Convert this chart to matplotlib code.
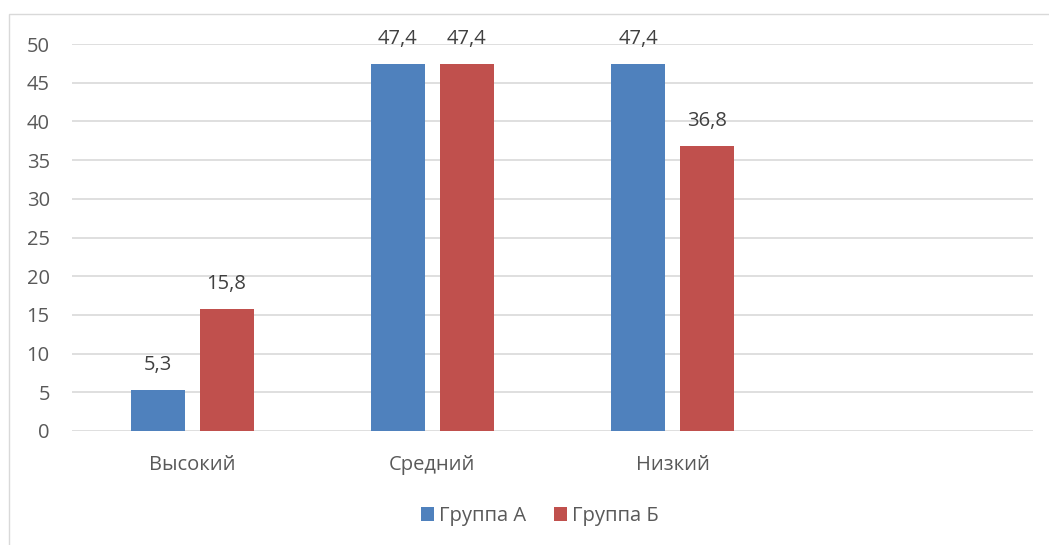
import matplotlib.pyplot as plt
import matplotlib.patches as mpatches
import numpy as np

plt.rcParams['font.family'] = ['Open Sans', 'DejaVu Sans']

categories = ['Высокий', 'Средний', 'Низкий', '']
group_a = [5.3, 47.4, 47.4]
group_b = [15.8, 47.4, 36.8]
series_names = ['Группа А', 'Группа Б']
yticks = [0, 5, 10, 15, 20, 25, 30, 35, 40, 45, 50]

blue = '#4F81BD'
red = '#C0504D'
text_c = '#595959'
grid_c = '#D9D9D9'
fs = 14.5

fig = plt.figure(figsize=(10.49, 5.45), dpi=100)
ax = fig.add_axes([72 / 1049, 1 - 431 / 545, (1033 - 72) / 1049, (431 - 44) / 545])

# внешняя рамка диаграммы
fig.patches.append(mpatches.Rectangle((9 / 1049, -0.01), 1.0, 1 - 14 / 545 + 0.01,
                                      transform=fig.transFigure, fill=False,
                                      edgecolor=grid_c, linewidth=1.0))

w = 0.2245
off = 0.1435
x = np.arange(len(group_a))
bars_a = ax.bar(x - off, group_a, w, color=blue, label=series_names[0], zorder=3)
bars_b = ax.bar(x + off, group_b, w, color=red, label=series_names[1], zorder=3)

for bars in (bars_a, bars_b):
    for b in bars:
        h = b.get_height()
        ax.annotate(f'{h:.1f}'.replace('.', ','), (b.get_x() + b.get_width() / 2, h),
                    xytext=(0, 18), textcoords='offset points',
                    ha='center', va='center', fontsize=fs, color='#404040')

ax.set_xlim(-0.5, 3.5)
ax.set_ylim(0, 50)
ax.set_yticks(yticks)
ax.set_xticks(range(len(categories)))
ax.set_xticklabels(categories)
ax.tick_params(axis='both', length=0, labelsize=fs, labelcolor=text_c)
ax.tick_params(axis='y', pad=16)
ax.tick_params(axis='x', pad=17)
ax.yaxis.grid(True, color=grid_c, linewidth=1.2, zorder=0)
for s in ax.spines.values():
    s.set_visible(False)

fig.legend(handles=[bars_a, bars_b], loc='center', bbox_to_anchor=(540 / 1049, 1 - 516 / 545),
           ncol=2, frameon=False, fontsize=fs, labelcolor=text_c,
           handlelength=0.65, handleheight=0.65, handletextpad=0.25, columnspacing=1.4)

fig.savefig('out.png', dpi=100)
